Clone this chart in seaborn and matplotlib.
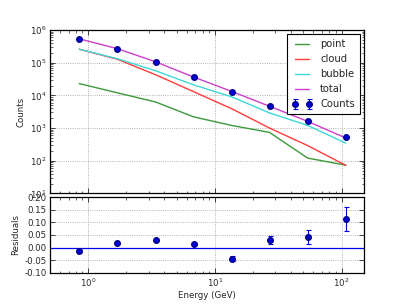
import numpy as np
import pandas as pd
import matplotlib
matplotlib.use("Agg")
import matplotlib.pyplot as plt
import seaborn as sns

# energy bin centres (GeV)
energy = [0.85, 1.7, 3.4, 6.8, 13.6, 27, 54, 108]

# model components
point = [2.3e4, 1.2e4, 6.3e3, 2.2e3, 1.2e3, 735, 120, 73]
cloud = [2.6e5, 1.28e5, 4.3e4, 1.3e4, 3.9e3, 1000, 290, 72]
bubble = [2.6e5, 1.33e5, 5.7e4, 2.1e4, 9.0e3, 2.9e3, 1.2e3, 345]
total = [5.4e5, 2.7e5, 1.07e5, 3.65e4, 1.32e4, 4.65e3, 1.6e3, 495]

# data
counts = [5.3e5, 2.65e5, 1.05e5, 3.65e4, 1.3e4, 4.7e3, 1.65e3, 520]
counts_err = [730, 515, 324, 191, 114, 69, 41, 23]

# residuals
resid = [-0.015, 0.017, 0.029, 0.015, -0.044, 0.031, 0.042, 0.114]
resid_err = [0.0014, 0.002, 0.003, 0.005, 0.009, 0.015, 0.028, 0.049]

sns.set_style("ticks")
plt.rcParams["font.family"] = ["DejaVu Sans"]
plt.rcParams["font.size"] = 6.2

fig = plt.figure(figsize=(4.05, 3.04), dpi=100)
ax = fig.add_axes([0.1235, 0.364, 0.775, 0.537])
ax2 = fig.add_axes([0.1235, 0.103, 0.775, 0.248], sharex=ax)

colors = {"point": "#3a9a3a", "cloud": "#ff3b3b", "bubble": "#3dd8d8", "total": "#cc3fcc"}
comps = {"point": point, "cloud": cloud, "bubble": bubble, "total": total}
for name, vals in comps.items():
    d = pd.DataFrame({"energy": energy, "val": vals})
    sns.lineplot(data=d, x="energy", y="val", ax=ax, color=colors[name], lw=1.0, label=name)

eb = ax.errorbar(energy, counts, yerr=counts_err, fmt="o", color="#0000dd", mec="#000088",
                 ms=4.0, ecolor="#0000dd", capsize=1.8, capthick=0.8, elinewidth=0.8, label="Counts")
for cap in eb[1]:
    cap.set_color("#7777ff")

ax.set_xscale("log")
ax.set_yscale("log")
ax.set_xlim(0.5, 150)
ax.set_ylim(10, 1e6)
ax.set_ylabel("Counts", fontsize=6.2, labelpad=3)
ax.set_xlabel("")
ax.tick_params(labelbottom=False)
ax.grid(True, which="major", color="#999999", ls=":", lw=0.6)
leg = ax.legend(loc="upper right", numpoints=2, fontsize=7.2, fancybox=False, framealpha=1,
                edgecolor="black", handlelength=2.0, borderaxespad=0.4, labelspacing=0.5,
                borderpad=0.5)
leg.get_frame().set_linewidth(0.8)

eb2 = ax2.errorbar(energy, resid, yerr=resid_err, fmt="o", color="#0000dd", mec="#000088",
                   ms=4.0, ecolor="#0000dd", capsize=1.8, capthick=0.8, elinewidth=0.8)
for cap in eb2[1]:
    cap.set_color("#7777ff")
ax2.axhline(0, color="#0000ee", lw=0.9)
ax2.set_ylim(-0.10, 0.20)
ax2.set_yticks(np.arange(-0.10, 0.201, 0.05))
ax2.yaxis.set_major_formatter(matplotlib.ticker.FormatStrFormatter("%.2f"))
ax2.set_ylabel("Residuals", fontsize=6.2, labelpad=3)
ax2.set_xlabel("Energy (GeV)", fontsize=6.2, labelpad=2)
ax2.grid(True, which="major", color="#999999", ls=":", lw=0.6)

for a in (ax, ax2):
    a.tick_params(which="both", direction="in", top=True, right=True, labelsize=6.2, pad=2.5)
    a.tick_params(which="major", length=3.5, width=0.6)
    a.tick_params(which="minor", length=1.8, width=0.5)
    for s in a.spines.values():
        s.set_linewidth(0.9)
        s.set_color("black")

fig.savefig("out.png", dpi=100)
